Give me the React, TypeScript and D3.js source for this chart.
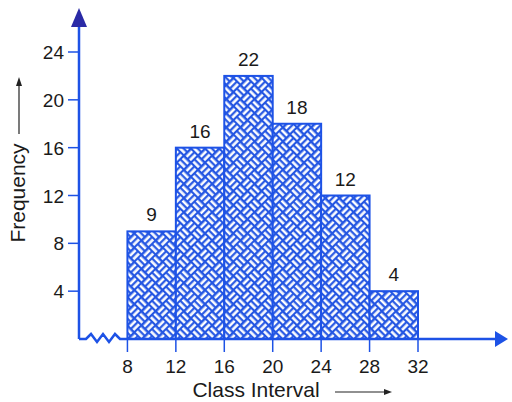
import * as d3 from "d3"
import { useEffect, useRef } from "react"

const classStarts = [8, 12, 16, 20, 24, 28]
const classWidth = 4
const frequencies = [9, 16, 22, 18, 12, 4]
const xTicks = [8, 12, 16, 20, 24, 28, 32]
const yTicks = [4, 8, 12, 16, 20, 24]

const BLUE = "#1d52e6"
const DARK = "#2a2aa6"
const FONT = "'Liberation Sans', Arial, sans-serif"

const App = () => {
  const svgRef = useRef<SVGSVGElement | null>(null)

  useEffect(() => {
    if (!svgRef.current) return
    const svg = d3.select(svgRef.current)
    svg.selectAll("*").remove()

    const x = d3.scaleLinear().domain([4, 32]).range([79, 418])
    const y = d3.scaleLinear().domain([0, 24]).range([339, 52])

    // basket weave pattern
    const defs = svg.append("defs")
    const c = 10
    const pat = defs
      .append("pattern")
      .attr("id", "weave")
      .attr("patternUnits", "userSpaceOnUse")
      .attr("width", c * 2)
      .attr("height", c * 2)
      .attr("patternTransform", "rotate(45)")
    pat.append("rect").attr("width", c * 2).attr("height", c * 2).attr("fill", "#2456e2")
    const cells = [
      [0, 0, "h"],
      [1, 0, "v"],
      [0, 1, "v"],
      [1, 1, "h"],
    ] as const
    cells.forEach(([cx, cy, dir]) => {
      ;[0, 1].forEach((k) => {
        const off = 1.5 + k * 4.8
        if (dir === "h") {
          pat
            .append("rect")
            .attr("x", cx * c + 1)
            .attr("y", cy * c + off)
            .attr("width", c - 2)
            .attr("height", 2.6)
            .attr("fill", "#fff")
        } else {
          pat
            .append("rect")
            .attr("x", cx * c + off)
            .attr("y", cy * c + 1)
            .attr("width", 2.6)
            .attr("height", c - 2)
            .attr("fill", "#fff")
        }
      })
    })

    const data = classStarts.map((s, i) => ({ start: s, end: s + classWidth, f: frequencies[i] }))

    // bars
    svg
      .selectAll(".bar")
      .data(data)
      .enter()
      .append("rect")
      .attr("class", "bar")
      .attr("x", (d) => x(d.start))
      .attr("y", (d) => y(d.f))
      .attr("width", (d) => x(d.end) - x(d.start))
      .attr("height", (d) => y(0) - y(d.f))
      .attr("fill", "url(#weave)")
      .attr("stroke", BLUE)
      .attr("stroke-width", 2)

    // bar labels
    svg
      .selectAll(".lbl")
      .data(data)
      .enter()
      .append("text")
      .attr("x", (d) => x(d.start + classWidth / 2))
      .attr("y", (d) => y(d.f) - 10)
      .attr("text-anchor", "middle")
      .style("font", `19px ${FONT}`)
      .attr("fill", "#1a1a1a")
      .text((d) => d.f)

    // x ticks
    svg
      .selectAll(".xt")
      .data(xTicks)
      .enter()
      .append("line")
      .attr("x1", (d) => x(d))
      .attr("x2", (d) => x(d))
      .attr("y1", y(0))
      .attr("y2", y(0) + 13)
      .attr("stroke", BLUE)
      .attr("stroke-width", 1.5)
    svg
      .selectAll(".xl")
      .data(xTicks)
      .enter()
      .append("text")
      .attr("x", (d) => x(d))
      .attr("y", y(0) + 34)
      .attr("text-anchor", "middle")
      .style("font", `19px ${FONT}`)
      .attr("fill", "#1a1a1a")
      .text((d) => d)

    // y ticks
    svg
      .selectAll(".yt")
      .data(yTicks)
      .enter()
      .append("line")
      .attr("x1", x(4) - 11)
      .attr("x2", x(4))
      .attr("y1", (d) => y(d))
      .attr("y2", (d) => y(d))
      .attr("stroke", BLUE)
      .attr("stroke-width", 1.5)
    svg
      .selectAll(".yl")
      .data(yTicks)
      .enter()
      .append("text")
      .attr("x", x(4) - 15)
      .attr("y", (d) => y(d) + 7)
      .attr("text-anchor", "end")
      .style("font", `19px ${FONT}`)
      .attr("fill", "#1a1a1a")
      .text((d) => d)

    // axes
    const x0 = x(4)
    const y0 = y(0)
    svg
      .append("line")
      .attr("x1", x0)
      .attr("x2", x0)
      .attr("y1", y0)
      .attr("y2", 20)
      .attr("stroke", BLUE)
      .attr("stroke-width", 2.5)
    svg
      .append("path")
      .attr("d", `M${x0},8 L${x0 + 8},27 L${x0 - 8},27 Z`)
      .attr("fill", DARK)

    // x axis with break zigzag
    const zig = d3.line()([
      [x0, y0],
      [x0 + 7, y0],
      [x0 + 12, y0 - 5],
      [x0 + 18, y0 + 3],
      [x0 + 24, y0 - 5],
      [x0 + 30, y0 + 3],
      [x0 + 36, y0 - 5],
      [x0 + 41, y0],
      [500, y0],
    ])
    svg
      .append("path")
      .attr("d", zig)
      .attr("fill", "none")
      .attr("stroke", BLUE)
      .attr("stroke-width", 2.5)
    svg
      .append("path")
      .attr("d", `M508,${y0} L495,${y0 - 8} L495,${y0 + 8} Z`)
      .attr("fill", BLUE)

    // axis titles
    svg
      .append("text")
      .attr("x", 256)
      .attr("y", 397)
      .attr("text-anchor", "middle")
      .style("font", `21px ${FONT}`)
      .attr("fill", "#1a1a1a")
      .text("Class Interval")
    svg
      .append("line")
      .attr("x1", 335)
      .attr("x2", 386)
      .attr("y1", 392)
      .attr("y2", 392)
      .attr("stroke", "#222")
      .attr("stroke-width", 1.2)
    svg.append("path").attr("d", "M392,392 L384,389 L384,395 Z").attr("fill", "#222")

    svg
      .append("text")
      .attr("transform", "translate(25,193) rotate(-90)")
      .attr("text-anchor", "middle")
      .style("font", `21px ${FONT}`)
      .attr("fill", "#1a1a1a")
      .text("Frequency")
    svg
      .append("line")
      .attr("x1", 19)
      .attr("x2", 19)
      .attr("y1", 134)
      .attr("y2", 84)
      .attr("stroke", "#222")
      .attr("stroke-width", 1.2)
    svg.append("path").attr("d", "M19,77 L16,86 L22,86 Z").attr("fill", "#222")
  }, [])

  return (
    <svg
      ref={svgRef}
      width={512}
      height={402}
      style={{ position: "absolute", left: 0, top: 0, background: "#fff" }}
    />
  )
}

export default App
